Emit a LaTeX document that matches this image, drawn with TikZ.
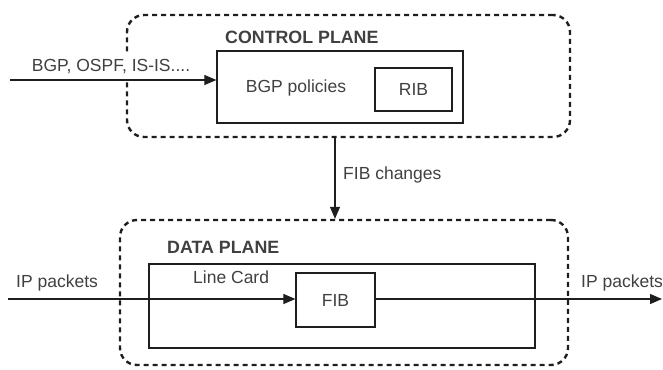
\documentclass[tikz,border=0pt]{standalone}
\usepackage{fontspec}
\setmainfont{Liberation Sans}
\usetikzlibrary{arrows.meta,positioning}
\definecolor{ink}{HTML}{1E1E1E}
\definecolor{txt}{HTML}{404040}
\tikzset{
  plane/.style={draw=ink, line width=2.4pt, dash pattern=on 5pt off 4pt,
    rounded corners=17pt, inner sep=0pt},
  box/.style={draw=ink, line width=1.2pt, inner sep=0pt},
  lbl/.style={text=txt, font=\fontsize{17.5}{20}\selectfont, inner sep=0pt},
  title/.style={lbl, font=\fontsize{17.8}{20}\selectfont\bfseries},
  flow/.style={draw=ink, line width=1.1pt, -{Triangle[length=12pt,width=10pt]}}
}
\begin{document}
\begin{tikzpicture}[x=1pt,y=-1pt]
\useasboundingbox (0,0) rectangle (663,369);

% control plane
\node[plane, minimum width=443pt, minimum height=122pt] (ctrl) at (348.5,76) {};
\node[title, anchor=west] (ctrltitle) at (225,37) {CONTROL PLANE};
\node[box, minimum width=246pt, minimum height=72pt] (bgp) at (340,87) {};
\node[lbl] (bgptext) at (296,88) {BGP policies};
\node[box, minimum width=77pt, minimum height=43pt] (rib) at (413.5,89.5) {};
\node[lbl] at (rib.center) {RIB};

% routing protocols feeding the control plane (label backed in white)
\node[lbl, fill=white, inner xsep=3pt, minimum height=30pt] (protolbl) at (111,67) {BGP, OSPF, IS-IS....};
\coordinate (protoin) at (10,80);
\draw[flow] (protoin) -- (protoin -| bgp.west);

% data plane
\node[plane, minimum width=448pt, minimum height=145pt] (data) at (344,292.5) {};
\node[title, anchor=west] (datatitle) at (167,247) {DATA PLANE};
\node[box, minimum width=386pt, minimum height=84pt] (card) at (342,306) {};
\node[lbl, anchor=west] (cardtitle) at (193,277) {Line Card};
\node[box, minimum width=79pt, minimum height=54pt] (fib) at (335.5,300) {};
\node[lbl] at (fib.center) {FIB};

% FIB updates from control to data plane
\coordinate (fibtop) at (335,137);
\draw[flow] (fibtop) -- (fibtop |- data.north);
\node[lbl, anchor=west] (fiblbl) at (343,175) {FIB changes};

% packet path through the line card
\coordinate (pktin) at (8,299);
\coordinate (pktout) at (662,299);
\draw[flow] (pktin) -- (pktin -| fib.west);
\draw[flow] (fib.east |- pktout) -- (pktout);
\node[lbl, anchor=west] (inlbl) at (16,283) {IP packets};
\node[lbl, anchor=west] (outlbl) at (581,283) {IP packets};
\end{tikzpicture}
\end{document}
